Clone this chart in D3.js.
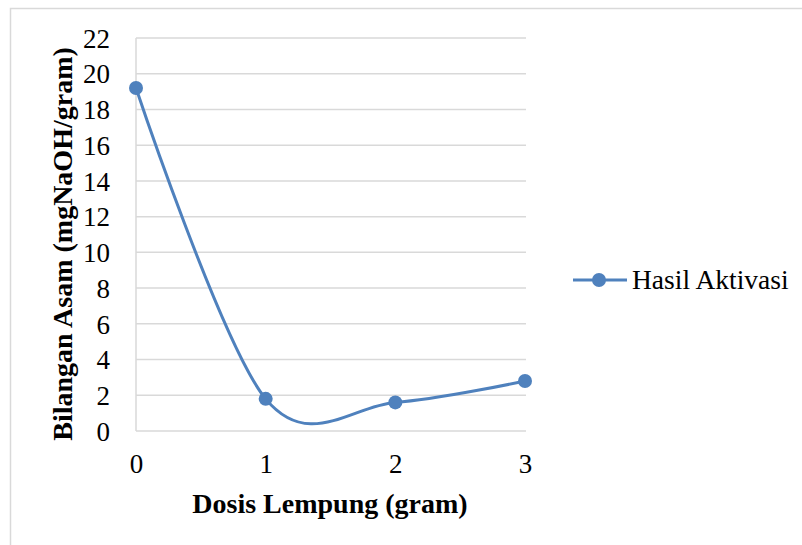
<!DOCTYPE html>
<html>
<head>
<meta charset="utf-8">
<script src="https://cdn.jsdelivr.net/npm/d3@7"></script>
<style>
  html, body { margin: 0; padding: 0; background: #ffffff; }
  svg { display: block; }
  text { font-family: "Liberation Serif", "DejaVu Serif", serif; fill: #000; }
</style>
</head>
<body>
<svg id="chart" width="802" height="545"></svg>
<script>
// ---- data ----
const categories = [0, 1, 2, 3];
const seriesName = "Hasil Aktivasi";
const seriesValues = [19.2, 1.8, 1.6, 2.8];
const yTicks = [0, 2, 4, 6, 8, 10, 12, 14, 16, 18, 20, 22];
const xTitle = "Dosis Lempung (gram)";
const yTitle = "Bilangan Asam (mgNaOH/gram)";

// ---- layout ----
const svg = d3.select("#chart");
const W = 802, H = 545;
const plot = { left: 136, right: 525, top: 38, bottom: 431 };
const blue = "#4f81bd";
const gridColor = "#d9d9d9";
const fontFam = '"Liberation Serif", "DejaVu Serif", serif';

// outer chart border
svg.append("rect")
  .attr("x", 10.5).attr("y", 8.5)
  .attr("width", W + 20).attr("height", H + 20)
  .attr("fill", "#fff")
  .attr("stroke", gridColor).attr("stroke-width", 1.5);

const x = d3.scaleLinear().domain([0, 3]).range([plot.left, plot.right]);
const y = d3.scaleLinear().domain([0, 22]).range([plot.bottom, plot.top]);

// gridlines
svg.append("g")
  .selectAll("line").data(yTicks.filter(d => d > 0)).join("line")
  .attr("x1", plot.left).attr("x2", plot.right + 1)
  .attr("y1", d => y(d)).attr("y2", d => y(d))
  .attr("stroke", gridColor).attr("stroke-width", 1.5);

// axes lines
svg.append("line")
  .attr("x1", plot.left).attr("x2", plot.left)
  .attr("y1", plot.top).attr("y2", plot.bottom)
  .attr("stroke", gridColor).attr("stroke-width", 1.5);
svg.append("line")
  .attr("x1", plot.left).attr("x2", plot.right + 1)
  .attr("y1", plot.bottom).attr("y2", plot.bottom)
  .attr("stroke", gridColor).attr("stroke-width", 1.5);

// y tick labels
const yAxis = d3.axisLeft(y).tickValues(yTicks).tickSize(0).tickPadding(0).tickFormat(d3.format("d"));
const gy = svg.append("g").attr("transform", `translate(110,0)`).call(yAxis);
gy.select(".domain").remove();
gy.selectAll("text")
  .style("font-family", fontFam)
  .style("font-size", "27px").attr("fill", "#000").attr("dy", "0.34em");

// x tick labels
const xAxis = d3.axisBottom(x).tickValues(categories).tickSize(0).tickPadding(0).tickFormat(d3.format("d"));
const gx = svg.append("g").attr("transform", `translate(0,473)`).call(xAxis);
gx.select(".domain").remove();
gx.selectAll("text")
  .style("font-family", fontFam)
  .style("font-size", "27px").attr("fill", "#000").attr("y", 0).attr("dy", 0);

// line
const line = d3.line()
  .x((d, i) => x(categories[i]))
  .y(d => y(d))
  .curve(d3.curveCardinal.tension(0));
svg.append("path")
  .datum(seriesValues)
  .attr("d", line)
  .attr("fill", "none")
  .attr("stroke", blue).attr("stroke-width", 3);

svg.append("g").selectAll("circle").data(seriesValues).join("circle")
  .attr("cx", (d, i) => x(categories[i]))
  .attr("cy", d => y(d))
  .attr("r", 7)
  .attr("fill", blue);

// axis titles
svg.append("text")
  .attr("x", 330).attr("y", 513)
  .attr("text-anchor", "middle")
  .style("font-size", "28px").style("font-weight", "bold")
  .text(xTitle);

svg.append("text")
  .attr("transform", "translate(72,244) rotate(-90)")
  .attr("text-anchor", "middle")
  .style("font-size", "28px").style("font-weight", "bold")
  .text(yTitle);

// legend
const lg = svg.append("g");
lg.append("line")
  .attr("x1", 573).attr("x2", 627).attr("y1", 280).attr("y2", 280)
  .attr("stroke", blue).attr("stroke-width", 3);
lg.append("circle").attr("cx", 599).attr("cy", 280).attr("r", 7).attr("fill", blue);
lg.append("text")
  .attr("x", 632).attr("y", 289)
  .style("font-size", "27.5px")
  .text(seriesName);
</script>
</body>
</html>
